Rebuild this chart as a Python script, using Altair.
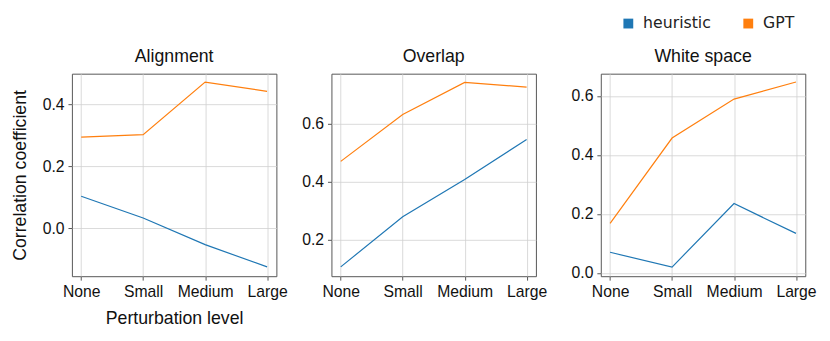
import altair as alt
import pandas as pd

levels = ["None", "Small", "Medium", "Large"]
methods = ["heuristic", "GPT"]
panels = ["Alignment", "Overlap", "White space"]

align_heuristic = [0.103, 0.033, -0.053, -0.125]
align_gpt = [0.294, 0.302, 0.472, 0.442]
overlap_heuristic = [0.108, 0.280, 0.408, 0.545]
overlap_gpt = [0.470, 0.631, 0.741, 0.725]
white_heuristic = [0.070, 0.020, 0.235, 0.134]
white_gpt = [0.168, 0.457, 0.589, 0.647]

y_domains = [[-0.155, 0.499], [0.076, 0.771], [-0.011, 0.675]]
y_ticks = [[0.0, 0.2, 0.4], [0.2, 0.4, 0.6], [0.0, 0.2, 0.4, 0.6]]

series = {
    "Alignment": {"heuristic": align_heuristic, "GPT": align_gpt},
    "Overlap": {"heuristic": overlap_heuristic, "GPT": overlap_gpt},
    "White space": {"heuristic": white_heuristic, "GPT": white_gpt},
}

rows = []
for p in panels:
    for m in methods:
        for lv, v in zip(levels, series[p][m]):
            rows.append({"panel": p, "method": m, "level": lv, "value": v})
df = pd.DataFrame(rows)

FONT = "Liberation Sans"
color = alt.Color(
    "method:N",
    scale=alt.Scale(domain=methods, range=["#1f77b4", "#ff7f0e"]),
    legend=alt.Legend(
        title=None, orient="none", direction="horizontal",
        legendX=558, legendY=-59,
        symbolType="square", symbolSize=16, symbolStrokeWidth=6,
        labelFont="DejaVu Sans", labelFontSize=16,
        labelColor="#222", labelOffset=7, columnPadding=24,
    ),
)


def panel(i, name):
    d = df[df.panel == name]
    y_title = "Correlation coefficient" if i == 0 else None
    x_title = "Perturbation level" if i == 0 else None
    return (
        alt.Chart(d, title=alt.TitleParams(name, font=FONT, fontSize=18,
                                           fontWeight="normal", offset=8, color="#111"))
        .mark_line(strokeWidth=1.2)
        .encode(
            x=alt.X("level:N", sort=levels,
                    scale=alt.Scale(type="point", padding=0.15),
                    axis=alt.Axis(title=x_title, labelAngle=0, grid=True,
                                  domain=False, tickSize=4, labelPadding=4,
                                  titlePadding=10)),
            y=alt.Y("value:Q",
                    scale=alt.Scale(domain=y_domains[i], nice=False, zero=False),
                    axis=alt.Axis(title=y_title, values=y_ticks[i], format=".1f",
                                  grid=True, domain=False, tickSize=4,
                                  labelPadding=4, titlePadding=13)),
            color=color,
        )
        .properties(width=208, height=206)
    )


p1, p2, p3 = [panel(i, n) for i, n in enumerate(panels)]

chart = (
    alt.hconcat(alt.hconcat(p1, p2, spacing=13), p3, spacing=23)
    .configure_view(stroke="#555555", strokeWidth=1)
    .configure_axis(labelFont=FONT, titleFont=FONT, labelFontSize=16,
                    titleFontSize=18, titleFontWeight="normal",
                    labelColor="#111", titleColor="#111",
                    gridColor="#d0d0d0", gridWidth=0.8,
                    tickColor="#555555", tickWidth=1)
    .properties(padding={"left": 3, "top": 5, "right": 5, "bottom": 5})
)

chart.save("out.html", embed_options={"renderer": "svg", "actions": False})
